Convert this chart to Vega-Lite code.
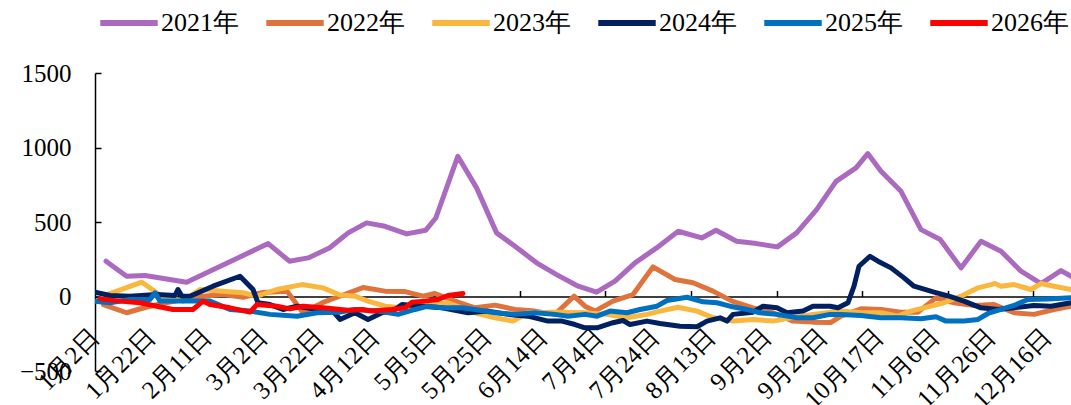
{
  "$schema": "https://vega.github.io/schema/vega-lite/v6.json",
  "width": 976,
  "height": 298,
  "autosize": {"type": "none"},
  "padding": {"left": 95, "top": 73, "right": 0, "bottom": 34},
  "background": "white",
  "config": {
    "view": {"stroke": null},
    "font": "Liberation Serif"
  },
  "data": {
    "values": [
      {"s":"2021年","t":2.75,"v":237},{"s":"2021年","t":7.9,"v":136},{"s":"2021年","t":12.5,"v":141},{"s":"2021年","t":22.9,"v":96},{"s":"2021年","t":43.3,"v":355},{"s":"2021年","t":48.6,"v":237},{"s":"2021年","t":53.3,"v":259},{"s":"2021年","t":58.6,"v":326},{"s":"2021年","t":63.3,"v":427},{"s":"2021年","t":67.9,"v":494},{"s":"2021年","t":72.5,"v":471},{"s":"2021年","t":77.9,"v":420},{"s":"2021年","t":82.7,"v":445},{"s":"2021年","t":85.2,"v":527},{"s":"2021年","t":90.7,"v":941},{"s":"2021年","t":95.4,"v":729},{"s":"2021年","t":100.4,"v":427},{"s":"2021年","t":105,"v":337},{"s":"2021年","t":110.4,"v":226},{"s":"2021年","t":115.4,"v":147},{"s":"2021年","t":120.8,"v":69},{"s":"2021年","t":125.4,"v":29},{"s":"2021年","t":130,"v":103},{"s":"2021年","t":135,"v":226},{"s":"2021年","t":140.4,"v":326},{"s":"2021年","t":145.8,"v":438},{"s":"2021年","t":151.7,"v":393},{"s":"2021年","t":155.25,"v":445},{"s":"2021年","t":160.4,"v":371},{"s":"2021年","t":165.4,"v":355},{"s":"2021年","t":170.6,"v":333},{"s":"2021年","t":175.4,"v":427},{"s":"2021年","t":180.4,"v":583},{"s":"2021年","t":185.25,"v":773},{"s":"2021年","t":190.25,"v":863},{"s":"2021年","t":193.2,"v":959},{"s":"2021年","t":196.5,"v":840},{"s":"2021年","t":201.5,"v":706},{"s":"2021年","t":206.5,"v":449},{"s":"2021年","t":211.3,"v":382},{"s":"2021年","t":216.5,"v":192},{"s":"2021年","t":221.5,"v":371},{"s":"2021年","t":226.5,"v":304},{"s":"2021年","t":231.5,"v":170},{"s":"2021年","t":236.5,"v":87},{"s":"2021年","t":241.5,"v":174},{"s":"2021年","t":244,"v":136},

      {"s":"2022年","t":2.1,"v":-54},{"s":"2022年","t":7.9,"v":-109},{"s":"2022年","t":12.5,"v":-74},{"s":"2022年","t":18,"v":-40},{"s":"2022年","t":26.25,"v":0},{"s":"2022年","t":32,"v":13},{"s":"2022年","t":37,"v":-5},{"s":"2022年","t":42,"v":27},{"s":"2022年","t":48,"v":36},{"s":"2022年","t":52,"v":-109},{"s":"2022年","t":57,"v":-40},{"s":"2022年","t":60,"v":-10},{"s":"2022年","t":67,"v":60},{"s":"2022年","t":72.5,"v":36},{"s":"2022年","t":77.5,"v":33},{"s":"2022年","t":82,"v":2},{"s":"2022年","t":85,"v":20},{"s":"2022年","t":90,"v":-31},{"s":"2022年","t":95,"v":-76},{"s":"2022年","t":100,"v":-58},{"s":"2022年","t":105,"v":-87},{"s":"2022年","t":110,"v":-98},{"s":"2022年","t":115,"v":-120},{"s":"2022年","t":119.75,"v":2},{"s":"2022年","t":122.5,"v":-65},{"s":"2022年","t":125,"v":-98},{"s":"2022年","t":129.5,"v":-31},{"s":"2022年","t":134.5,"v":13},{"s":"2022年","t":139.5,"v":199},{"s":"2022年","t":145,"v":114},{"s":"2022年","t":149.5,"v":92},{"s":"2022年","t":154.5,"v":36},{"s":"2022年","t":159.25,"v":-31},{"s":"2022年","t":164.5,"v":-76},{"s":"2022年","t":169.5,"v":-109},{"s":"2022年","t":174.5,"v":-165},{"s":"2022年","t":179.5,"v":-172},{"s":"2022年","t":184,"v":-174},{"s":"2022年","t":186.5,"v":-132},{"s":"2022年","t":191.5,"v":-83},{"s":"2022年","t":196.5,"v":-87},{"s":"2022年","t":201.5,"v":-105},{"s":"2022年","t":205.75,"v":-105},{"s":"2022年","t":210.25,"v":-9},{"s":"2022年","t":214.75,"v":-42},{"s":"2022年","t":219.75,"v":-60},{"s":"2022年","t":224.75,"v":-54},{"s":"2022年","t":229.75,"v":-109},{"s":"2022年","t":234.75,"v":-120},{"s":"2022年","t":239.75,"v":-87},{"s":"2022年","t":244,"v":-65},

      {"s":"2023年","t":2,"v":2},{"s":"2023年","t":11.7,"v":96},{"s":"2023年","t":16.7,"v":2},{"s":"2023年","t":22,"v":-31},{"s":"2023年","t":26.25,"v":47},{"s":"2023年","t":32,"v":36},{"s":"2023年","t":37,"v":25},{"s":"2023年","t":40.5,"v":2},{"s":"2023年","t":45.5,"v":47},{"s":"2023年","t":51.75,"v":80},{"s":"2023年","t":57,"v":58},{"s":"2023年","t":61.25,"v":10},{"s":"2023年","t":65,"v":2},{"s":"2023年","t":68.25,"v":-31},{"s":"2023年","t":72.5,"v":-65},{"s":"2023年","t":76.75,"v":-76},{"s":"2023年","t":82.5,"v":-60},{"s":"2023年","t":88.25,"v":-42},{"s":"2023年","t":95,"v":-109},{"s":"2023年","t":100,"v":-143},{"s":"2023年","t":104.5,"v":-165},{"s":"2023年","t":108.25,"v":-109},{"s":"2023年","t":115,"v":-105},{"s":"2023年","t":122.5,"v":-109},{"s":"2023年","t":128,"v":-120},{"s":"2023年","t":133,"v":-143},{"s":"2023年","t":138,"v":-120},{"s":"2023年","t":141.25,"v":-98},{"s":"2023年","t":145.75,"v":-72},{"s":"2023年","t":150.5,"v":-98},{"s":"2023年","t":154.5,"v":-143},{"s":"2023年","t":159.5,"v":-165},{"s":"2023年","t":164.5,"v":-154},{"s":"2023年","t":169.5,"v":-165},{"s":"2023年","t":174.5,"v":-140},{"s":"2023年","t":179.5,"v":-120},{"s":"2023年","t":186.5,"v":-98},{"s":"2023年","t":191.5,"v":-109},{"s":"2023年","t":196.5,"v":-109},{"s":"2023年","t":200.75,"v":-132},{"s":"2023年","t":204,"v":-98},{"s":"2023年","t":207.25,"v":-76},{"s":"2023年","t":212.25,"v":-42},{"s":"2023年","t":216.5,"v":2},{"s":"2023年","t":220.75,"v":58},{"s":"2023年","t":224,"v":80},{"s":"2023年","t":225,"v":87},{"s":"2023年","t":226.5,"v":69},{"s":"2023年","t":229.75,"v":80},{"s":"2023年","t":234,"v":47},{"s":"2023年","t":236.5,"v":87},{"s":"2023年","t":239.75,"v":69},{"s":"2023年","t":244,"v":47},

      {"s":"2024年","t":0,"v":29},{"s":"2024年","t":3.75,"v":7},{"s":"2024年","t":8.75,"v":2},{"s":"2024年","t":15.4,"v":13},{"s":"2024年","t":20,"v":7},{"s":"2024年","t":20.75,"v":47},{"s":"2024年","t":21.75,"v":2},{"s":"2024年","t":23.75,"v":2},{"s":"2024年","t":29.5,"v":69},{"s":"2024年","t":36.25,"v":136},{"s":"2024年","t":39.5,"v":47},{"s":"2024年","t":40.75,"v":-42},{"s":"2024年","t":43.75,"v":-54},{"s":"2024年","t":47,"v":-87},{"s":"2024年","t":50.5,"v":-65},{"s":"2024年","t":55.5,"v":-87},{"s":"2024年","t":59.5,"v":-100},{"s":"2024年","t":61.25,"v":-154},{"s":"2024年","t":65,"v":-109},{"s":"2024年","t":68.25,"v":-154},{"s":"2024年","t":71.75,"v":-109},{"s":"2024年","t":75,"v":-87},{"s":"2024年","t":76.75,"v":-54},{"s":"2024年","t":81.75,"v":-65},{"s":"2024年","t":86.75,"v":-76},{"s":"2024年","t":93.25,"v":-109},{"s":"2024年","t":98.25,"v":-98},{"s":"2024年","t":103.25,"v":-120},{"s":"2024年","t":108.25,"v":-132},{"s":"2024年","t":113.25,"v":-165},{"s":"2024年","t":116.75,"v":-165},{"s":"2024年","t":120,"v":-188},{"s":"2024年","t":122.5,"v":-210},{"s":"2024年","t":125.5,"v":-210},{"s":"2024年","t":129.5,"v":-176},{"s":"2024年","t":132,"v":-161},{"s":"2024年","t":133.75,"v":-188},{"s":"2024年","t":138,"v":-165},{"s":"2024年","t":141.25,"v":-181},{"s":"2024年","t":146.25,"v":-199},{"s":"2024年","t":150.5,"v":-203},{"s":"2024年","t":153,"v":-165},{"s":"2024年","t":156.25,"v":-143},{"s":"2024年","t":158,"v":-165},{"s":"2024年","t":159.5,"v":-120},{"s":"2024年","t":164.5,"v":-105},{"s":"2024年","t":167,"v":-65},{"s":"2024年","t":170.5,"v":-76},{"s":"2024年","t":173,"v":-109},{"s":"2024年","t":177,"v":-98},{"s":"2024年","t":179.5,"v":-65},{"s":"2024年","t":183.75,"v":-65},{"s":"2024年","t":185.75,"v":-76},{"s":"2024年","t":188.25,"v":-42},{"s":"2024年","t":189.75,"v":69},{"s":"2024年","t":191,"v":203},{"s":"2024年","t":193.75,"v":270},{"s":"2024年","t":195.75,"v":237},{"s":"2024年","t":199,"v":192},{"s":"2024年","t":202.25,"v":125},{"s":"2024年","t":204.75,"v":69},{"s":"2024年","t":209.75,"v":29},{"s":"2024年","t":213.5,"v":2},{"s":"2024年","t":217.25,"v":-31},{"s":"2024年","t":221.5,"v":-76},{"s":"2024年","t":225.75,"v":-87},{"s":"2024年","t":229.75,"v":-76},{"s":"2024年","t":234.75,"v":-60},{"s":"2024年","t":239,"v":-65},{"s":"2024年","t":244,"v":-42},

      {"s":"2025年","t":0,"v":-31},{"s":"2025年","t":3.75,"v":-42},{"s":"2025年","t":8.75,"v":-20},{"s":"2025年","t":13.75,"v":-20},{"s":"2025年","t":15,"v":25},{"s":"2025年","t":16.25,"v":-31},{"s":"2025年","t":22,"v":-31},{"s":"2025年","t":28.75,"v":-31},{"s":"2025年","t":33.75,"v":-87},{"s":"2025年","t":38.75,"v":-98},{"s":"2025年","t":43.75,"v":-120},{"s":"2025年","t":50.5,"v":-132},{"s":"2025年","t":55.5,"v":-109},{"s":"2025年","t":61.25,"v":-105},{"s":"2025年","t":65,"v":-87},{"s":"2025年","t":70.75,"v":-98},{"s":"2025年","t":75.75,"v":-120},{"s":"2025年","t":80,"v":-87},{"s":"2025年","t":83.25,"v":-65},{"s":"2025年","t":86.75,"v":-76},{"s":"2025年","t":91.75,"v":-76},{"s":"2025年","t":95,"v":-87},{"s":"2025年","t":100,"v":-109},{"s":"2025年","t":105,"v":-120},{"s":"2025年","t":110,"v":-109},{"s":"2025年","t":115,"v":-120},{"s":"2025年","t":118.25,"v":-132},{"s":"2025年","t":122.5,"v":-120},{"s":"2025年","t":125.5,"v":-132},{"s":"2025年","t":128.75,"v":-98},{"s":"2025年","t":133,"v":-109},{"s":"2025年","t":136.25,"v":-87},{"s":"2025年","t":140.5,"v":-65},{"s":"2025年","t":143,"v":-27},{"s":"2025年","t":148,"v":-5},{"s":"2025年","t":152,"v":-36},{"s":"2025年","t":155.5,"v":-42},{"s":"2025年","t":158.75,"v":-65},{"s":"2025年","t":163,"v":-87},{"s":"2025年","t":166.25,"v":-109},{"s":"2025年","t":170.5,"v":-120},{"s":"2025年","t":175.5,"v":-143},{"s":"2025年","t":179.5,"v":-143},{"s":"2025年","t":183.75,"v":-120},{"s":"2025年","t":186.5,"v":-120},{"s":"2025年","t":191.5,"v":-127},{"s":"2025年","t":196.5,"v":-143},{"s":"2025年","t":201.5,"v":-143},{"s":"2025年","t":206.5,"v":-150},{"s":"2025年","t":210.25,"v":-136},{"s":"2025年","t":212.75,"v":-165},{"s":"2025年","t":217.25,"v":-165},{"s":"2025年","t":220.75,"v":-154},{"s":"2025年","t":223.25,"v":-114},{"s":"2025年","t":226.5,"v":-87},{"s":"2025年","t":229.75,"v":-60},{"s":"2025年","t":233.25,"v":-20},{"s":"2025年","t":238.25,"v":-16},{"s":"2025年","t":244,"v":-9},

      {"s":"2026年","t":1.25,"v":-16},{"s":"2026年","t":6.25,"v":-31},{"s":"2026年","t":11.25,"v":-42},{"s":"2026年","t":15.5,"v":-65},{"s":"2026年","t":19.5,"v":-87},{"s":"2026年","t":24.5,"v":-87},{"s":"2026年","t":27,"v":-31},{"s":"2026年","t":28.75,"v":-54},{"s":"2026年","t":33.75,"v":-76},{"s":"2026年","t":38.75,"v":-105},{"s":"2026年","t":40.5,"v":-54},{"s":"2026年","t":45.5,"v":-65},{"s":"2026年","t":48.75,"v":-83},{"s":"2026年","t":52,"v":-65},{"s":"2026年","t":57,"v":-76},{"s":"2026年","t":61.25,"v":-87},{"s":"2026年","t":63.25,"v":-92},{"s":"2026年","t":66.75,"v":-87},{"s":"2026年","t":69.25,"v":-98},{"s":"2026年","t":74.25,"v":-87},{"s":"2026年","t":77.5,"v":-76},{"s":"2026年","t":79.25,"v":-38},{"s":"2026年","t":82.5,"v":-31},{"s":"2026年","t":85.75,"v":-20},{"s":"2026年","t":88.25,"v":7},{"s":"2026年","t":92,"v":20}
    ]
  },
  "mark": {"type": "line", "strokeWidth": 5, "strokeJoin": "round", "strokeCap": "round", "clip": true},
  "encoding": {
    "x": {
      "field": "t",
      "type": "quantitative",
      "scale": {"domain": [0, 244], "nice": false, "zero": false},
      "axis": {
        "title": null,
        "offset": -74.5,
        "values": [0, 14, 20.7, 28, 42, 56, 63.4, 70, 84, 84.8, 98, 106.2, 112, 126, 127.6, 140, 149, 154, 168, 170.4, 182, 191.8, 196, 210, 213.2, 224, 234.6, 238],
        "labelExpr": "({'0':'1月2日','14':'1月22日','28':'2月11日','42':'3月2日','56':'3月22日','70':'4月12日','84':'5月5日','98':'5月25日','112':'6月14日','126':'7月4日','140':'7月24日','154':'8月13日','168':'9月2日','182':'9月22日','196':'10月17日','210':'11月6日','224':'11月26日','238':'12月16日'})[datum.value] || ''",
        "labelAngle": -45,
        "labelAlign": "right",
        "labelBaseline": "middle",
        "labelPadding": 42,
        "labelFontSize": 25,
        "labelFont": "Liberation Serif",
        "labelColor": "#000000",
        "labelOverlap": false,
        "labelBound": false,
        "labelFlush": false,
        "tickSize": -6,
        "tickColor": "#000000",
        "tickWidth": 1.5,
        "tickOpacity": {"condition": {"test": "indexof([20.7,42,63.4,84.8,106.2,127.6,149,170.4,191.8,213.2,234.6], datum.value) >= 0", "value": 1}, "value": 0},
        "domainColor": "#000000",
        "domainWidth": 1.5,
        "grid": false
      }
    },
    "y": {
      "field": "v",
      "type": "quantitative",
      "scale": {"domain": [-500, 1500], "nice": false},
      "axis": {
        "title": null,
        "values": [-500, 0, 500, 1000, 1500],
        "format": "d",
        "labelFontSize": 25,
        "labelFont": "Liberation Serif",
        "labelColor": "#000000",
        "labelPadding": 30,
        "tickSize": -6,
        "tickColor": "#000000",
        "tickWidth": 1.5,
        "domainColor": "#000000",
        "domainWidth": 1.5,
        "grid": false
      }
    },
    "color": {
      "field": "s",
      "type": "nominal",
      "scale": {
        "domain": ["2021年", "2022年", "2023年", "2024年", "2025年", "2026年"],
        "range": ["#AB69BF", "#E0733B", "#F9B73E", "#002060", "#0070C0", "#FF0000"]
      },
      "legend": {
        "title": null,
        "orient": "none",
        "direction": "horizontal",
        "legendX": 2,
        "legendY": -82,
        "columns": 6,
        "padding": 0,
        "symbolType": "stroke",
        "symbolSize": 3300,
        "symbolStrokeWidth": 6,
        "labelFontSize": 26,
        "labelFont": "Liberation Serif",
        "labelColor": "#000000",
        "labelOffset": 0,
        "columnPadding": 15,
        "labelLimit": 200
      }
    }
  }
}
